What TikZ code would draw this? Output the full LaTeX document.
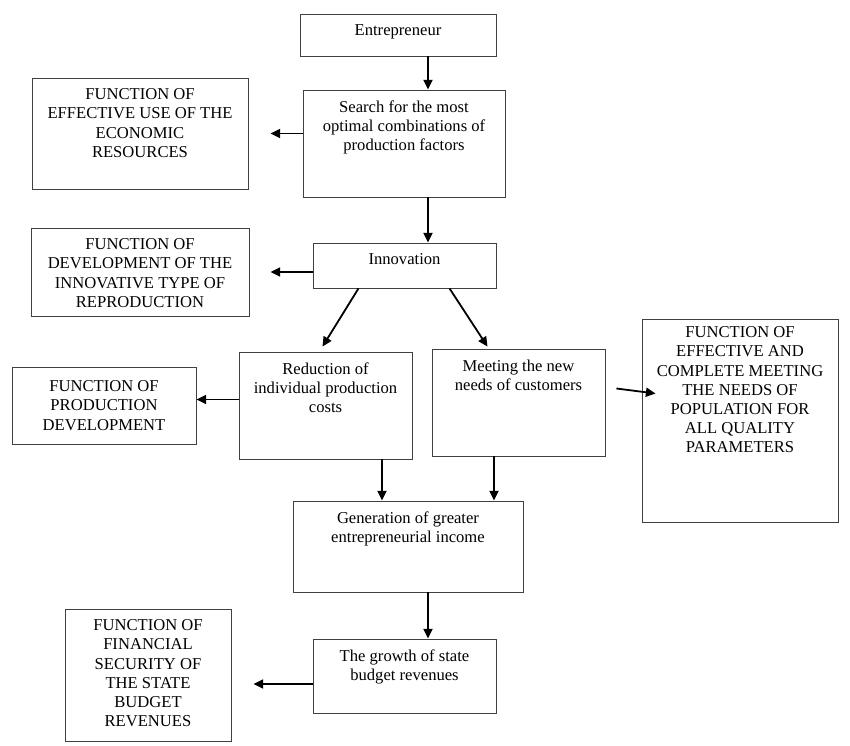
\documentclass[tikz,border=0pt]{standalone}
\usepackage{fontspec}
\setmainfont{Liberation Serif}
\usetikzlibrary{arrows.meta,fit,calc}
\newcommand{\pxu}{0.254mm}

\begin{document}
\begin{tikzpicture}[x=0.254mm, y=-0.254mm, >={Triangle[length=7pt,width=6.5pt]},
    box/.style={draw=black!75, line width=0.6pt, inner sep=0pt},
    txt/.style={anchor=north, align=center, inner sep=0pt, yshift=-11*\pxu,
        font=\fontsize{12pt}{13.8pt}\selectfont},
    arr/.style={->, line width=1.3pt}]
    % page size of the scanned figure (pixels)
    \useasboundingbox (0,0) rectangle (850,746);

    % Central column of boxes
    \node[box, fit={(300,14) (496,56)}] (entr) {};
    \node[txt] (entr-t) at (entr.north) {Entrepreneur};

    \node[box, fit={(303,90) (505,197)}] (search) {};
    \node[txt] (search-t) at (search.north) {Search for the most\\optimal combinations of\\production factors};

    \node[box, fit={(313,243) (496,288)}] (innov) {};
    \node[txt] (innov-t) at (innov.north) {Innovation};

    \node[box, fit={(239,352) (412,459)}] (reduc) {};
    \node[txt] (reduc-t) at (reduc.north) {Reduction of\\individual production\\costs};

    \node[box, fit={(432,349) (605,456)}] (meet) {};
    \node[txt] (meet-t) at (meet.north) {Meeting the new\\needs of customers};

    \node[box, fit={(293,501) (523,592)}] (gen) {};
    \node[txt] (gen-t) at (gen.north) {Generation of greater\\entrepreneurial income};

    \node[box, fit={(313,639) (496,713)}] (growth) {};
    \node[txt] (growth-t) at (growth.north) {The growth of state\\budget revenues};

    % Function boxes at the sides
    \node[box, fit={(32,78) (248,189)}] (fres) {};
    \node[txt] (fres-t) at (fres.north) {FUNCTION OF\\EFFECTIVE USE OF THE\\ECONOMIC\\RESOURCES};

    \node[box, fit={(31,228) (249,316)}] (finno) {};
    \node[txt] (finno-t) at (finno.north) {FUNCTION OF\\DEVELOPMENT OF THE\\INNOVATIVE TYPE OF\\REPRODUCTION};

    \node[box, fit={(12,367) (196,444)}] (fprod) {};
    \node[txt, yshift=-3*\pxu] (fprod-t) at (fprod.north) {FUNCTION OF\\PRODUCTION\\DEVELOPMENT};

    \node[box, fit={(642,319) (838,522)}] (fneed) {};
    \node[txt, yshift=3*\pxu] (fneed-t) at (fneed.north) {FUNCTION OF\\EFFECTIVE AND\\COMPLETE MEETING\\THE NEEDS OF\\POPULATION FOR\\ALL QUALITY\\PARAMETERS};

    \node[box, fit={(65,609) (231,741)}] (fbudg) {};
    \node[txt] (fbudg-t) at (fbudg.north) {FUNCTION OF\\FINANCIAL\\SECURITY OF\\THE STATE\\BUDGET\\REVENUES};

    % x positions of the vertical arrows
    \coordinate (midx) at (428,0);
    \coordinate (lcol) at (382,0);
    \coordinate (rcol) at (494,0);

    % Arrows down the middle
    \draw[arr] (entr.south -| midx) -- (search.north -| midx);
    \draw[arr] (search.south -| midx) -- (innov.north -| midx);
    \draw[arr] ($(innov.south)+(-46,0)$) -- ($(reduc.north)+(-3,-5)$);
    \draw[arr] ($(innov.south)+(45,0)$) -- ($(meet.north)+(-31,-2)$);
    \draw[arr] (reduc.south -| lcol) -- (gen.north -| lcol);
    \draw[arr] (meet.south -| rcol) -- (gen.north -| rcol);
    \draw[arr] (gen.south -| midx) -- (growth.north -| midx);

    % Arrows out to the functions
    \draw[arr] (search.west |- fres.east) -- ($(fres.east)+(22,0)$);
    \draw[arr] (innov.west |- finno.east) -- ($(finno.east)+(21,0)$);
    \draw[arr] ($(reduc.west)+(0,-6)$) -- ($(fprod.east)+(0,-6)$);
    \draw[arr] ($(meet.east)+(11,-14)$) -- ($(fneed.west)+(14,-27)$);
    \draw[arr] ($(growth.west)+(0,8)$) -- ($(growth.west -| fbudg.east)+(22,8)$);

\end{tikzpicture}
\end{document}
